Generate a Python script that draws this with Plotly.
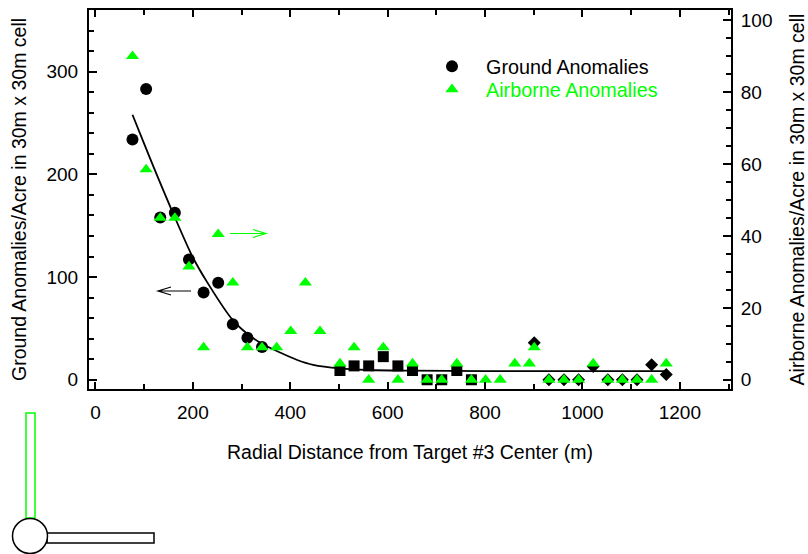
import plotly.graph_objects as go

# ---------------- data ----------------
ground_circle_x = [76, 104, 133, 163, 192, 222, 252, 282, 312, 342]
ground_circle_y = [234, 283, 158, 162.5, 117, 85, 94.5, 54, 41, 32]
ground_square_x = [502, 531, 561, 591, 621, 651, 681, 711, 742, 772]
ground_square_y = [9, 13.5, 13.5, 22.5, 13.5, 9, 0, 0, 9, 0]
ground_diamond_x = [901, 931, 962, 992, 1022, 1052, 1082, 1112, 1142, 1172]
ground_diamond_y = [36, 0, 0, 0, 13, 0, 0, 0, 14.5, 5]

airborne_x = [76, 104, 133, 163, 192, 222, 252, 282, 312, 342, 372, 401, 431, 461,
              502, 531, 561, 591, 621, 651, 681, 711, 742, 772, 801, 831, 861, 891,
              901, 931, 962, 992, 1022, 1052, 1082, 1112, 1142, 1172]
airborne_y = [90, 58.5, 45, 45, 31.5, 9, 40.5, 27, 9, 9, 9, 13.5, 27, 13.5,
              4.5, 9, 0, 9, 0, 4.5, 0, 0, 4.5, 0, 0, 0, 4.5, 4.5,
              9, 0, 0, 0, 4.5, 0, 0, 0, 0, 4.5]

fit_x = [76, 104, 129, 153, 198, 228, 282, 311, 342, 379, 413, 447, 502, 560, 650, 800, 1000, 1172]
fit_y = [258, 225, 196, 169, 121, 96, 58, 45, 35, 26.5, 19.5, 14.5, 11, 9.5, 8.8, 8.5, 8.5, 8.5]

x_ticks = [0, 200, 400, 600, 800, 1000, 1200]
left_ticks = [0, 100, 200, 300]
right_ticks = [0, 20, 40, 60, 80, 100]

# ---------------- layout geometry ----------------
W, H = 808, 554
ML, MR, MT, MB = 89, 77, 10, 165
PW = W - ML - MR
PH = H - MT - MB

def px(xp):
    return (xp - ML) / PW

def py(yp):
    return (H - MB - yp) / PH

FONT = "Liberation Sans, Arial, sans-serif"
GREEN = "#00ff00"
BLACK = "#000000"

fig = go.Figure()

fig.add_trace(go.Scatter(x=fit_x, y=fit_y, mode="lines", yaxis="y",
                         line=dict(color=BLACK, width=1.8, shape="spline", smoothing=0.7),
                         showlegend=False, hoverinfo="skip"))
fig.add_trace(go.Scatter(x=ground_circle_x, y=ground_circle_y, mode="markers", yaxis="y",
                         name="Ground Anomalies", legend="legend",
                         marker=dict(symbol="circle", size=12, color=BLACK)))
fig.add_trace(go.Scatter(x=ground_square_x, y=ground_square_y, mode="markers", yaxis="y",
                         name="Ground Anomalies (squares)", showlegend=False,
                         marker=dict(symbol="square", size=11, color=BLACK)))
fig.add_trace(go.Scatter(x=ground_diamond_x, y=ground_diamond_y, mode="markers", yaxis="y",
                         name="Ground Anomalies (diamonds)", showlegend=False,
                         marker=dict(symbol="diamond", size=10, color=BLACK)))
fig.add_trace(go.Scatter(x=airborne_x, y=airborne_y, mode="markers", yaxis="y2",
                         name="Airborne Anomalies", legend="legend2",
                         marker=dict(symbol="triangle-up", size=11.5, color=GREEN)))

shapes = []
# direction arrows (shaft + open chevron head), in paper coordinates
def arrow(x_tail, x_head, y, color):
    d = 13 if x_head < x_tail else -13
    path = (f"M {px(x_tail)} {py(y)} L {px(x_head)} {py(y)} "
            f"M {px(x_head + d)} {py(y - 4)} L {px(x_head)} {py(y)} L {px(x_head + d)} {py(y + 4)}")
    return dict(type="path", xref="paper", yref="paper", path=path,
                line=dict(color=color, width=1.2))

shapes.append(arrow(191, 158, 291, BLACK))
shapes.append(arrow(230, 266, 233.5, GREEN))

# decorative glyph in the lower-left corner
shapes.append(dict(type="rect", xref="paper", yref="paper",
                   x0=px(26), x1=px(35), y0=py(518), y1=py(413),
                   line=dict(color=GREEN, width=1.5), fillcolor="white"))
shapes.append(dict(type="rect", xref="paper", yref="paper",
                   x0=px(47), x1=px(154), y0=py(543), y1=py(533),
                   line=dict(color=BLACK, width=1.5), fillcolor="white"))
shapes.append(dict(type="circle", xref="paper", yref="paper",
                   x0=px(12.5), x1=px(47.5), y0=py(553.5), y1=py(518.5),
                   line=dict(color=BLACK, width=1.5), fillcolor="white"))

legend_common = dict(xanchor="left", yanchor="top", bgcolor="rgba(0,0,0,0)",
                     borderwidth=0, itemwidth=58)

fig.update_layout(
    width=W, height=H,
    margin=dict(l=ML, r=MR, t=MT, b=MB, pad=0, autoexpand=False),
    paper_bgcolor="white", plot_bgcolor="white",
    font=dict(family=FONT, color=BLACK, size=19),
    showlegend=True,
    legend=dict(x=px(418), y=py(47), font=dict(family=FONT, size=19.8, color=BLACK),
                **legend_common),
    legend2=dict(x=px(418), y=py(70), font=dict(family=FONT, size=19.8, color=GREEN),
                 **legend_common),
    xaxis=dict(range=[-13.3, 1305], tickvals=x_ticks, ticktext=[str(v) for v in x_ticks],
               ticks="inside", ticklen=7, tickwidth=1.5, tickcolor=BLACK,
               minor=dict(dtick=100, tick0=0, ticks="inside", ticklen=5, tickwidth=1.5, tickcolor=BLACK),
               showline=True, linecolor=BLACK, linewidth=2, mirror="ticks",
               showgrid=False, zeroline=False, ticklabelstandoff=5, automargin=False,
               tickfont=dict(size=19),
               title=dict(text="Radial Distance from Target #3 Center (m)",
                          font=dict(size=19.5), standoff=24)),
    yaxis=dict(range=[-9, 360], tickvals=left_ticks, ticktext=[str(v) for v in left_ticks],
               ticks="inside", ticklen=8, tickwidth=1.5, tickcolor=BLACK,
               minor=dict(dtick=20, tick0=0, ticks="inside", ticklen=5, tickwidth=1.5, tickcolor=BLACK),
               showline=True, linecolor=BLACK, linewidth=2,
               showgrid=False, zeroline=False, ticklabelstandoff=5, automargin=False,
               tickfont=dict(size=19),
               title=dict(text="Ground Anomalies/Acre in 30m x 30m cell",
                          font=dict(size=19.5), standoff=15)),
    yaxis2=dict(range=[-9 / 3.5, 360 / 3.5], overlaying="y", side="right",
                tickvals=right_ticks, ticktext=[str(v) for v in right_ticks],
                ticks="inside", ticklen=8, tickwidth=1.5, tickcolor=BLACK,
                minor=dict(dtick=5, tick0=0, ticks="inside", ticklen=5, tickwidth=1.5, tickcolor=BLACK),
                showline=True, linecolor=BLACK, linewidth=2,
                showgrid=False, zeroline=False, ticklabelstandoff=4, automargin=False,
                tickfont=dict(size=19),
                title=dict(text="Airborne Anomalies/Acre in 30m x 30m cell",
                           font=dict(size=19.5), standoff=20)),
    shapes=shapes,
)

fig.write_html("out.html")
